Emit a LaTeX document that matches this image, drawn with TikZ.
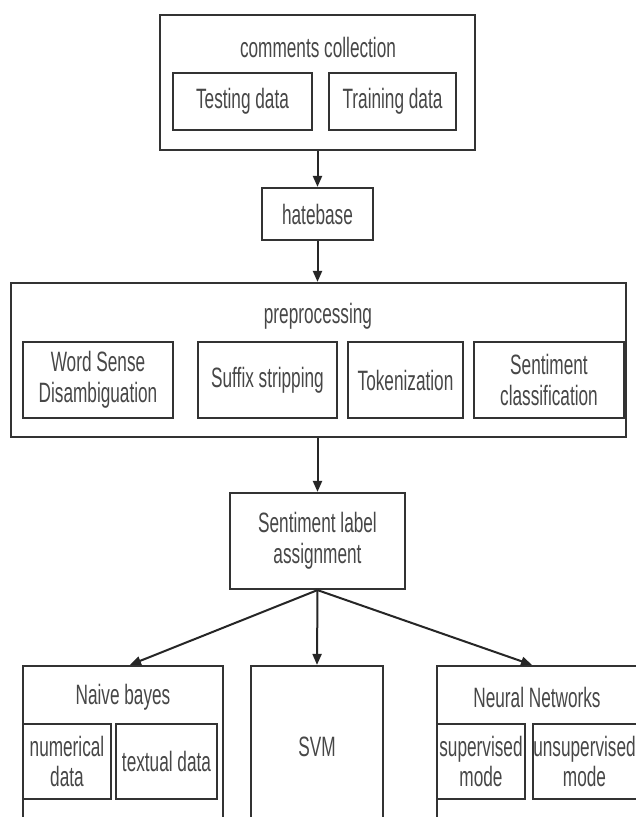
\documentclass[tikz,border=0pt]{standalone}
\usepackage{fontspec}
\newfontfamily\diafont[FakeStretch=0.615]{Liberation Sans}
\usetikzlibrary{arrows.meta}
\begin{document}
\begin{tikzpicture}[x=1pt,y=-1pt,
	box/.style={draw=black!80, line width=2.2pt, inner sep=0pt, align=center, text=black!72, font=\diafont\fontsize{28}{30.5}\selectfont},
	title/.style={inner sep=0pt, text=black!72, font=\diafont\fontsize{28}{30.5}\selectfont},
	arr/.style={-{Triangle[length=11pt,width=9pt]}, draw=black!85, line width=2pt}]
	\clip (0,0) rectangle (636,817);
	\fill[white] (0,0) rectangle (636,817);
	% top part
	\node[box, minimum width=315, minimum height=135] (comments) at (317.5,82.5) {};
	\node[title] (commentst) at (318,47) {comments collection};
	\node[box, minimum width=139, minimum height=57] (testing) at (242.5,101.5) {Testing data};
	\node[box, minimum width=127, minimum height=57] (training) at (392.5,101.5) {Training data};
	\node[box, minimum width=111, minimum height=52] (hatebase) at (317.5,214) {hatebase};
	% preprocessing
	\node[box, minimum width=615, minimum height=154] (prep) at (318.5,360) {};
	\node[title] (prept) at (318,316) {preprocessing};
	\node[box, minimum width=150, minimum height=76] (wsd) at (98,380) {Word Sense\\Disambiguation};
	\node[box, minimum width=139, minimum height=76] (suffix) at (267.5,380) {Suffix stripping};
	\node[box, minimum width=115, minimum height=76] (token) at (405.5,380) {Tokenization};
	\node[box, minimum width=150, minimum height=76] (sentclass) at (549,380) {Sentiment\\classification};
	\node[box, minimum width=175, minimum height=96] (sla) at (317.5,541) {Sentiment label\\assignment};
	% classifiers
	\node[box, minimum width=200, minimum height=180] (nb) at (123,756) {};
	\node[title] (nbt) at (123,697) {Naive bayes};
	\node[box, minimum width=88, minimum height=75] (numerical) at (67,761.5) {numerical\\data};
	\node[box, minimum width=101, minimum height=75] (textual) at (166.5,761.5) {textual data};
	\node[box, minimum width=132, minimum height=162] (svm) at (317,747) {SVM};
	\node[box, minimum width=200, minimum height=180] (nn) at (537,756) {};
	\node[title] (nnt) at (537,697) {Neural Networks};
	\node[box, minimum width=88, minimum height=75] (supervised) at (481,761.5) {supervised\\mode};
	\node[box, minimum width=100, minimum height=75] (unsupervised) at (587,761.5) {unsupervised\kern5pt\\mode\kern5pt};
	% arrows
	\draw[arr] (comments.south) -- (hatebase.north);
	\draw[arr] (hatebase.south) -- (hatebase.south |- prep.north);
	\draw[arr] (sla.north |- prep.south) -- (sla.north);
	\draw[arr] (sla.south) -- ([xshift=7]nb.north);
	\draw[arr] (sla.south) -- (svm.north);
	\draw[arr] (sla.south) -- ([xshift=-5]nn.north);
\end{tikzpicture}
\end{document}
